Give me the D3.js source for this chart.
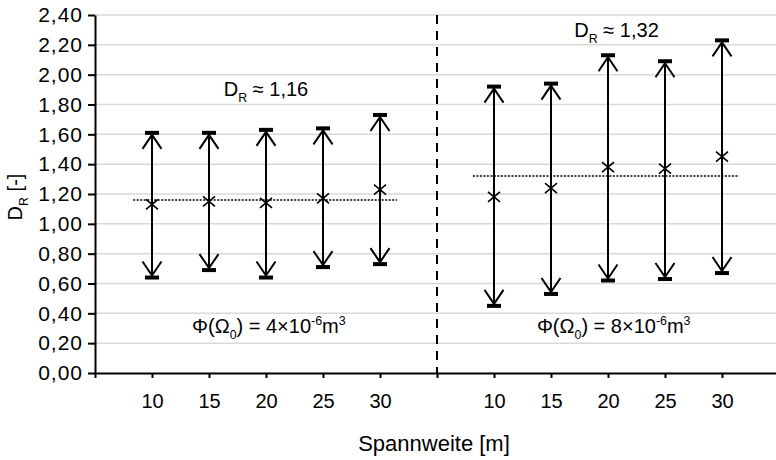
<!DOCTYPE html>
<html>
<head>
<meta charset="utf-8">
<script src="https://cdn.jsdelivr.net/npm/d3@7/dist/d3.min.js"></script>
<style>
  body { margin: 0; background: #fff; }
  svg { display: block; }
  text { font-family: "Liberation Sans", Arial, sans-serif; fill: #000; }
</style>
</head>
<body>
<svg id="chart" width="776" height="460"></svg>
<script>
// Span lengths shown under each group
const spans = ["10", "15", "20", "25", "30"];

// Group 1: Φ(Ω0) = 4×10^-6 m³
const mean4 = [1.13, 1.15, 1.14, 1.17, 1.23];
const min4  = [0.64, 0.69, 0.64, 0.71, 0.73];
const max4  = [1.61, 1.61, 1.63, 1.64, 1.73];
const avg4  = 1.16;

// Group 2: Φ(Ω0) = 8×10^-6 m³
const mean8 = [1.18, 1.24, 1.38, 1.37, 1.45];
const min8  = [0.45, 0.53, 0.62, 0.63, 0.67];
const max8  = [1.92, 1.94, 2.13, 2.09, 2.23];
const avg8  = 1.32;

// Y axis tick values
const yTicks = [0, 0.2, 0.4, 0.6, 0.8, 1.0, 1.2, 1.4, 1.6, 1.8, 2.0, 2.2, 2.4];

const svg = d3.select("#chart");
const plotL = 95, plotR = 779, plotT = 15, plotB = 373;

// slot positions: 0 = left edge, 1..5 group 1, 6 = separator, 7..11 group 2, 12 = right edge
const x = d3.scaleLinear().domain([0, 12]).range([plotL, plotR]);
const y = d3.scaleLinear().domain([0, 2.4]).range([plotB, plotT]);
const fmt = v => d3.format(".2f")(v).replace(".", ",");

const groups = [
  { offset: 1, mean: mean4, min: min4, max: max4, avg: avg4, avgFrom: 0.67, avgTo: 5.3 },
  { offset: 7, mean: mean8, min: min8, max: max8, avg: avg8, avgFrom: 6.63, avgTo: 11.3 }
];

// gridlines
svg.append("g").selectAll("line").data(yTicks.slice(1)).join("line")
  .attr("x1", plotL).attr("x2", plotR)
  .attr("y1", d => y(d)).attr("y2", d => y(d))
  .attr("stroke", "#d9d9d9").attr("stroke-width", 1.5);

// separator between the two groups
svg.append("line")
  .attr("x1", x(6)).attr("x2", x(6)).attr("y1", y(2.4)).attr("y2", y(0))
  .attr("stroke", "#000").attr("stroke-width", 2).attr("stroke-dasharray", "9,7");

// average lines
svg.append("g").selectAll("line").data(groups).join("line")
  .attr("x1", g => x(g.avgFrom)).attr("x2", g => x(g.avgTo))
  .attr("y1", g => y(g.avg)).attr("y2", g => y(g.avg))
  .attr("stroke", "#000").attr("stroke-width", 1.5).attr("stroke-dasharray", "2,1.5");

// flatten range items
const items = [];
groups.forEach(g => spans.forEach((s, i) => items.push({
  pos: g.offset + i, mean: g.mean[i], lo: g.min[i], hi: g.max[i]
})));

const arrows = svg.append("g").attr("stroke", "#000").attr("fill", "none");
items.forEach(d => {
  const cx = x(d.pos), yl = y(d.lo), yh = y(d.hi), ym = y(d.mean);
  arrows.append("line").attr("x1", cx).attr("x2", cx).attr("y1", yl).attr("y2", yh).attr("stroke-width", 2);
  arrows.append("path").attr("stroke-width", 2)
    .attr("d", `M${cx - 9.5},${yh + 16}L${cx},${yh + 2}L${cx + 9.5},${yh + 16}`);
  arrows.append("path").attr("stroke-width", 2)
    .attr("d", `M${cx - 9.5},${yl - 16}L${cx},${yl - 2}L${cx + 9.5},${yl - 16}`);
  [yh, yl].forEach(yy => arrows.append("rect")
    .attr("x", cx - 7).attr("y", yy - 2).attr("width", 14).attr("height", 4)
    .attr("fill", "#000").attr("stroke", "none"));
  arrows.append("path").attr("stroke-width", 1.6)
    .attr("d", `M${cx - 6},${ym - 5}L${cx + 6},${ym + 5}M${cx - 6},${ym + 5}L${cx + 6},${ym - 5}`);
});

// x axis
const xLabel = p => (p >= 1 && p <= 5) ? spans[p - 1] : (p >= 7 && p <= 11) ? spans[p - 7] : "";
const xAxis = svg.append("g").attr("transform", `translate(0,${plotB})`)
  .call(d3.axisBottom(x).tickValues(d3.range(0, 13)).tickFormat(xLabel)
    .tickSize(5).tickSizeOuter(0).tickPadding(16));
xAxis.select(".domain").attr("stroke", "#000").attr("stroke-width", 2);
xAxis.selectAll(".tick line").attr("stroke", "#000").attr("stroke-width", 2);
xAxis.selectAll("text").attr("font-size", 20).attr("font-family", "Liberation Sans, Arial, sans-serif");

// y axis
const yAxis = svg.append("g").attr("transform", `translate(${plotL},0)`)
  .call(d3.axisLeft(y).tickValues(yTicks).tickFormat(fmt)
    .tickSize(7).tickSizeOuter(0).tickPadding(5));
yAxis.select(".domain").attr("stroke", "#000").attr("stroke-width", 2);
yAxis.selectAll(".tick line").attr("stroke", "#000").attr("stroke-width", 2);
yAxis.selectAll("text").attr("font-size", 21).attr("letter-spacing", 1)
  .attr("font-family", "Liberation Sans, Arial, sans-serif");

// rich text helper: parts are [string, "n" | "sub" | "sup"]
function rich(parent, parts, size) {
  const t = parent.append("text").attr("font-size", size);
  let shift = 0;
  parts.forEach(([s, kind]) => {
    const target = kind === "sub" ? size * 0.3 : kind === "sup" ? -size * 0.38 : 0;
    t.append("tspan")
      .attr("font-size", kind === "n" ? size : size * 0.62)
      .attr("dy", target - shift)
      .text(s);
    shift = target;
  });
  return t;
}

// axis titles
const yt = svg.append("g").attr("transform", "translate(22,197) rotate(-90)");
rich(yt, [["D", "n"], ["R", "sub"], [" [-]", "n"]], 20).attr("text-anchor", "middle");

svg.append("text").attr("x", (plotL + plotR) / 2 - 3).attr("y", 451)
  .attr("text-anchor", "middle").attr("font-size", 22).text("Spannweite [m]");

// annotations
const notes = [
  { pos: 3.0, val: 1.86, parts: [["D", "n"], ["R", "sub"], [" ≈ " + fmt(avg4), "n"]] },
  { pos: 9.15, val: 2.25, parts: [["D", "n"], ["R", "sub"], [" ≈ " + fmt(avg8), "n"]] },
  { pos: 3.05, val: 0.27, parts: [["Φ(Ω", "n"], ["0", "sub"], [") = 4×10", "n"], ["-6", "sup"], ["m", "n"], ["3", "sup"]] },
  { pos: 9.1, val: 0.27, parts: [["Φ(Ω", "n"], ["0", "sub"], [") = 8×10", "n"], ["-6", "sup"], ["m", "n"], ["3", "sup"]] }
];
notes.forEach(n => {
  const g = svg.append("g").attr("transform", `translate(${x(n.pos)},${y(n.val)})`);
  rich(g, n.parts, 20).attr("text-anchor", "middle");
});
</script>
</body>
</html>
